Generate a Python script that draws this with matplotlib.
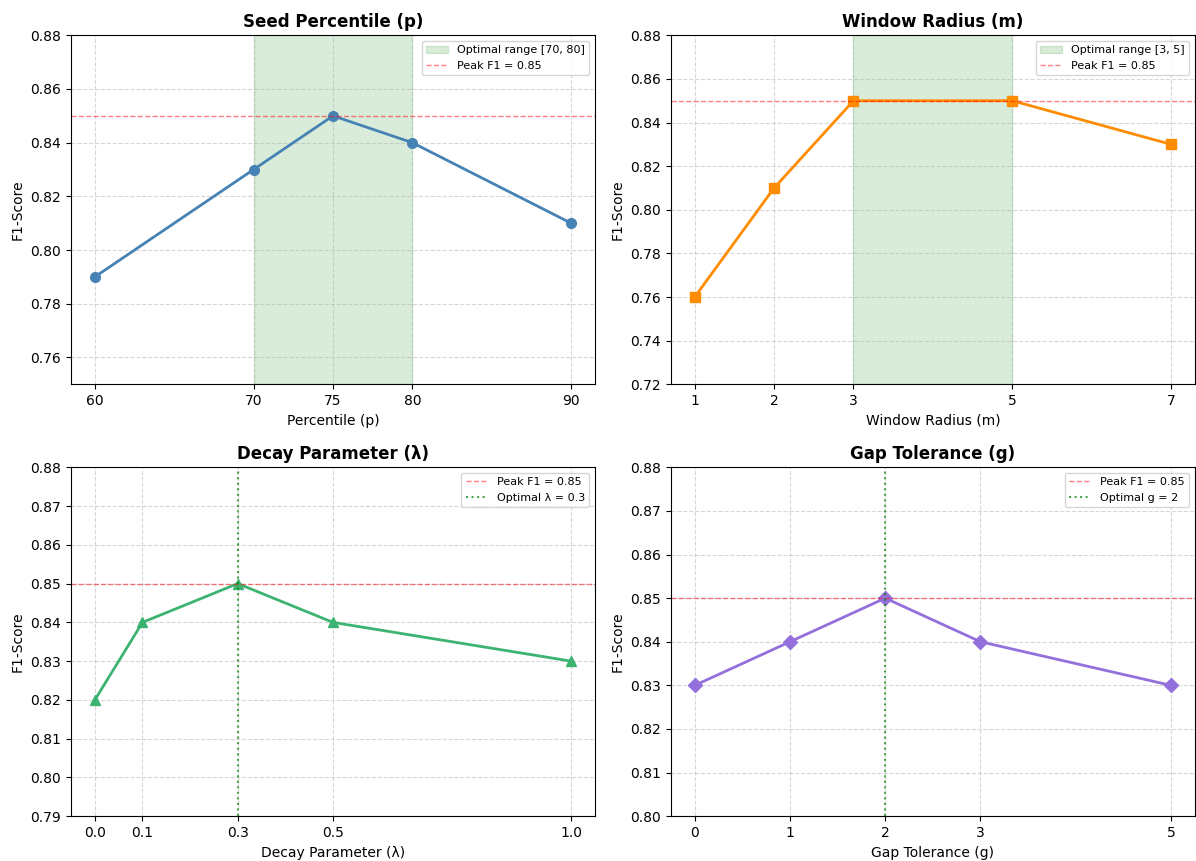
import matplotlib.pyplot as plt

# sweep data
p_vals = [60, 70, 75, 80, 90]
p_f1 = [0.79, 0.83, 0.85, 0.84, 0.81]

m_vals = [1, 2, 3, 5, 7]
m_f1 = [0.76, 0.81, 0.85, 0.85, 0.83]

lam_vals = [0.0, 0.1, 0.3, 0.5, 1.0]
lam_f1 = [0.82, 0.84, 0.85, 0.84, 0.83]

g_vals = [0, 1, 2, 3, 5]
g_f1 = [0.83, 0.84, 0.85, 0.84, 0.83]

peak = 0.85

fig, axes = plt.subplots(2, 2, figsize=(11.96, 8.61), dpi=100)

# Seed percentile
ax = axes[0, 0]
ax.axvspan(70, 80, color='green', alpha=0.15, label='Optimal range [70, 80]')
ax.plot(p_vals, p_f1, 'o-', color='steelblue', lw=2, ms=7)
ax.axhline(peak, color='red', ls='--', alpha=0.5, lw=1, label='Peak F1 = 0.85')
ax.set_xticks(p_vals)
ax.set_ylim(0.75, 0.88)
ax.set_xlabel('Percentile (p)')
ax.set_ylabel('F1-Score')
ax.set_title('Seed Percentile (p)', fontweight='bold', fontsize=12)

# Window radius
ax = axes[0, 1]
ax.axvspan(3, 5, color='green', alpha=0.15, label='Optimal range [3, 5]')
ax.plot(m_vals, m_f1, 's-', color='darkorange', lw=2, ms=7)
ax.axhline(peak, color='red', ls='--', alpha=0.5, lw=1, label='Peak F1 = 0.85')
ax.set_xticks(m_vals)
ax.set_ylim(0.72, 0.88)
ax.set_xlabel('Window Radius (m)')
ax.set_ylabel('F1-Score')
ax.set_title('Window Radius (m)', fontweight='bold', fontsize=12)

# Decay parameter
ax = axes[1, 0]
ax.plot(lam_vals, lam_f1, '^-', color='mediumseagreen', lw=2, ms=7)
ax.axhline(peak, color='red', ls='--', alpha=0.5, lw=1, label='Peak F1 = 0.85')
ax.axvline(0.3, color='green', ls=':', lw=1.5, alpha=0.7, label='Optimal λ = 0.3')
ax.set_xticks(lam_vals)
ax.set_ylim(0.79, 0.88)
ax.set_xlabel('Decay Parameter (λ)')
ax.set_ylabel('F1-Score')
ax.set_title('Decay Parameter (λ)', fontweight='bold', fontsize=12)

# Gap tolerance
ax = axes[1, 1]
ax.plot(g_vals, g_f1, 'D-', color='mediumpurple', lw=2, ms=7)
ax.axhline(peak, color='red', ls='--', alpha=0.5, lw=1, label='Peak F1 = 0.85')
ax.axvline(2, color='green', ls=':', lw=1.5, alpha=0.7, label='Optimal g = 2')
ax.set_xticks(g_vals)
ax.set_ylim(0.80, 0.88)
ax.set_xlabel('Gap Tolerance (g)')
ax.set_ylabel('F1-Score')
ax.set_title('Gap Tolerance (g)', fontweight='bold', fontsize=12)

for ax in axes.flat:
    ax.grid(True, ls='--', alpha=0.5)
    ax.legend(loc='upper right', fontsize=8)

plt.subplots_adjust(left=0.0594, right=0.999, top=0.959, bottom=0.052,
                    wspace=0.145, hspace=0.238)
plt.savefig('out.png')
